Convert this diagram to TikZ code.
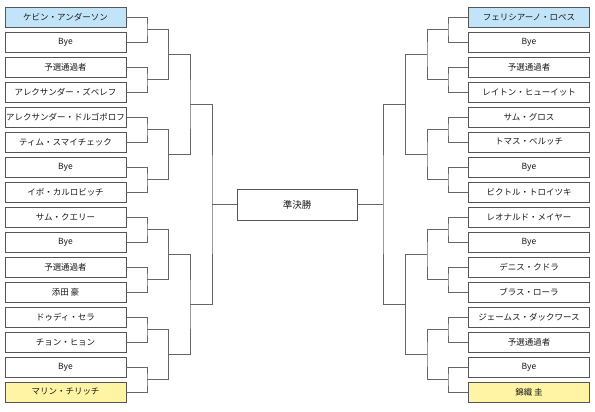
\documentclass[tikz,border=0pt]{standalone}
\usepackage{fontspec}
\setmainfont{Noto Sans CJK JP}
\begin{document}
\begin{tikzpicture}[x=1pt,y=-1pt,
  player/.style={draw=boxline,line width=0.9pt,fill=white,minimum width=121pt,minimum height=20pt,inner sep=0pt,font=\fontsize{8.5}{10}\selectfont,text=black!90},
  seedA/.style={player,fill=seedblue},
  seedB/.style={player,fill=seedyellow},
  bline/.style={draw=lineclr,line width=0.9pt},
  final/.style={draw=boxline,line width=0.9pt,fill=white,minimum width=120pt,minimum height=31pt,inner sep=0pt,font=\fontsize{9.5}{11}\selectfont,text=black!90}]
\definecolor{boxline}{HTML}{555555}
\definecolor{lineclr}{HTML}{666666}
\definecolor{seedblue}{HTML}{C2E4F9}
\definecolor{seedyellow}{HTML}{FFF4A3}
\useasboundingbox (0,0) rectangle (595,412);

% left players
\foreach \t [count=\i] in {Bye,予選通過者,アレクサンダー・ズベレフ,アレクサンダー・ドルゴポロフ,ティム・スマイチェック,Bye,イボ・カルロビッチ,サム・クエリー,Bye,予選通過者,添田 豪,ドゥディ・セラ,チョン・ヒョン,Bye}{
  \pgfmathtruncatemacro\n{\i+1}
  \node[player] (L\n) at (65.5,{17+25*\i}) {\t};
}
\node[seedA] (L1) at (65.5,17) {ケビン・アンダーソン};
\node[seedB] (L16) at (65.5,392) {マリン・チリッチ};

% right players
\foreach \t [count=\i] in {Bye,予選通過者,レイトン・ヒューイット,サム・グロス,トマス・ベルッチ,Bye,ビクトル・トロイツキ,レオナルド・メイヤー,Bye,デニス・クドラ,ブラス・ローラ,ジェームス・ダックワース,予選通過者,Bye}{
  \pgfmathtruncatemacro\n{\i+1}
  \node[player] (R\n) at (529,{17+25*\i}) {\t};
}
\node[seedA] (R1) at (529,17) {フェリシアーノ・ロペス};
\node[seedB] (R16) at (529,392) {錦織 圭};

\node[final] (F) at (297,204.5) {準決勝};

% round 1
\foreach \k in {1,...,8}{
  \pgfmathtruncatemacro\a{2*\k-1}
  \pgfmathtruncatemacro\b{2*\k}
  \coordinate (LA\k) at (147,{50*\k-20.5});
  \coordinate (RA\k) at (448,{50*\k-20.5});
  \draw[bline] (L\a.east) -| (LA\k) |- (L\b.east);
  \draw[bline] (R\a.west) -| (RA\k) |- (R\b.west);
}
% round 2
\foreach \k in {1,...,4}{
  \pgfmathtruncatemacro\a{2*\k-1}
  \pgfmathtruncatemacro\b{2*\k}
  \coordinate (LB\k) at (168.5,{100*\k-45.5});
  \coordinate (RB\k) at (427,{100*\k-45.5});
  \draw[bline] (LA\a) -| (LB\k) |- (LA\b);
  \draw[bline] (RA\a) -| (RB\k) |- (RA\b);
}
% round 3
\foreach \k in {1,2}{
  \pgfmathtruncatemacro\a{2*\k-1}
  \pgfmathtruncatemacro\b{2*\k}
  \coordinate (LC\k) at (190,{200*\k-95.5});
  \coordinate (RC\k) at (405.5,{200*\k-95.5});
  \draw[bline] (LB\a) -| (LC\k) |- (LB\b);
  \draw[bline] (RB\a) -| (RC\k) |- (RB\b);
}
% round 4
\coordinate (LD) at (212,204.5);
\coordinate (RD) at (383,204.5);
\draw[bline] (LC1) -| (LD) |- (LC2);
\draw[bline] (RC1) -| (RD) |- (RC2);
\draw[bline] (LD) -- (F.west);
\draw[bline] (RD) -- (F.east);
\end{tikzpicture}
\end{document}
